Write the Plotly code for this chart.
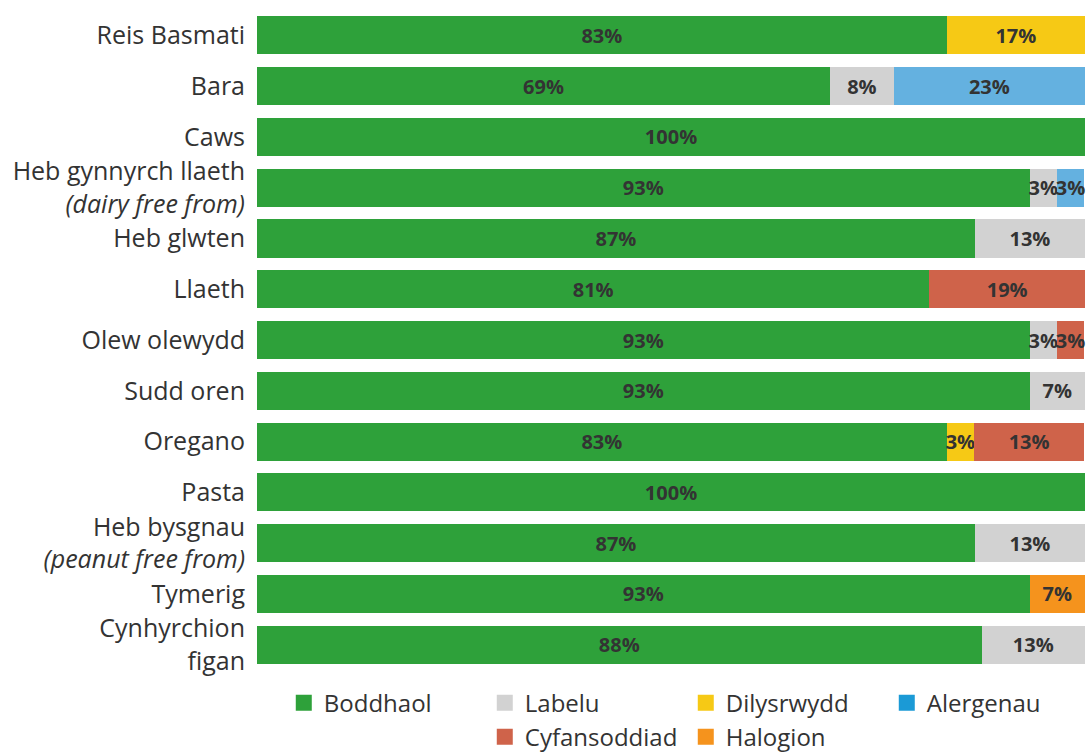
import plotly.graph_objects as go

categories = [
    "Reis Basmati", "Bara", "Caws",
    "Heb gynnyrch llaeth<br><i>(dairy free from)</i>",
    "Heb glwten", "Llaeth", "Olew olewydd", "Sudd oren", "Oregano", "Pasta",
    "Heb bysgnau<br><i>(peanut free from)</i>",
    "Tymerig", "Cynhyrchion<br>figan",
]

series_names = ["Boddhaol", "Labelu", "Dilysrwydd", "Alergenau", "Cyfansoddiad", "Halogion"]

boddhaol     = [83.3, 69.2, 100, 93.3, 86.7, 81.2, 93.3, 93.3, 83.3, 100, 86.7, 93.3, 87.5]
labelu       = [0, 7.7, 0, 3.3, 13.3, 0, 3.3, 6.7, 0, 0, 13.3, 0, 12.5]
dilysrwydd   = [16.7, 0, 0, 0, 0, 0, 0, 0, 3.3, 0, 0, 0, 0]
alergenau    = [0, 23.1, 0, 3.3, 0, 0, 0, 0, 0, 0, 0, 0, 0]
cyfansoddiad = [0, 0, 0, 0, 0, 18.8, 3.3, 0, 13.3, 0, 0, 0, 0]
halogion     = [0, 0, 0, 0, 0, 0, 0, 0, 0, 0, 0, 6.7, 0]

bar_colors    = ["#2ea13a", "#d2d2d2", "#f6c915", "#64b1e0", "#cf634a", "#f5931d"]
legend_colors = ["#2ea13a", "#d2d2d2", "#f6c915", "#1b9ad6", "#cf634a", "#f5931d"]

all_series = [boddhaol, labelu, dilysrwydd, alergenau, cyfansoddiad, halogion]

FONT = "Open Sans"
TXT = "#333333"

fig = go.Figure()
for name, vals, col in zip(series_names, all_series, bar_colors):
    labels = [f"{int(v + 0.5)}%" if v > 0 else "" for v in vals]
    fig.add_trace(go.Bar(
        y=categories, x=vals, orientation="h", name=name,
        marker=dict(color=col, line=dict(width=0)),
        text=labels, textposition="inside", insidetextanchor="middle",
        textangle=0, constraintext="none", cliponaxis=False,
        textfont=dict(family=FONT, size=20, color=TXT, weight="bold"),
        showlegend=False, hoverinfo="skip",
    ))

# legend entries (two centred rows)
for i, (name, col) in enumerate(zip(series_names, legend_colors)):
    fig.add_trace(go.Scatter(
        y=[None], x=[None], mode="markers", name=name,
        marker=dict(color=col, symbol="square", size=16),
        showlegend=True,
        legend="legend" if i < 4 else "legend2",
    ))

leg_common = dict(
    orientation="h", xref="container", yref="container",
    xanchor="center", yanchor="middle", x=0.628,
    entrywidth=156, entrywidthmode="pixels",
    font=dict(family=FONT, size=24, color=TXT),
    itemwidth=30, tracegroupgap=0, traceorder="normal",
    bgcolor="rgba(0,0,0,0)",
)

fig.update_layout(
    barmode="stack",
    bargap=0.25,
    width=1092, height=754,
    margin=dict(l=257, r=7, t=10, b=84, autoexpand=False),
    plot_bgcolor="white", paper_bgcolor="white",
    font=dict(family=FONT, size=25, color=TXT),
    xaxis=dict(range=[0, 100], visible=False, fixedrange=True),
    yaxis=dict(
        categoryorder="array", categoryarray=categories, autorange="reversed",
        showgrid=False, zeroline=False, showline=False, automargin=False,
        ticks="", ticklabelstandoff=11,
        tickfont=dict(family=FONT, size=25, color=TXT),
    ),
    legend=dict(leg_common, y=0.0676),
    legend2=dict(leg_common, y=0.0225),
)

fig.write_html(
    "out.html",
    config={"displayModeBar": False},
    post_script="document.body.style.margin='0';document.body.style.padding='0';",
)
